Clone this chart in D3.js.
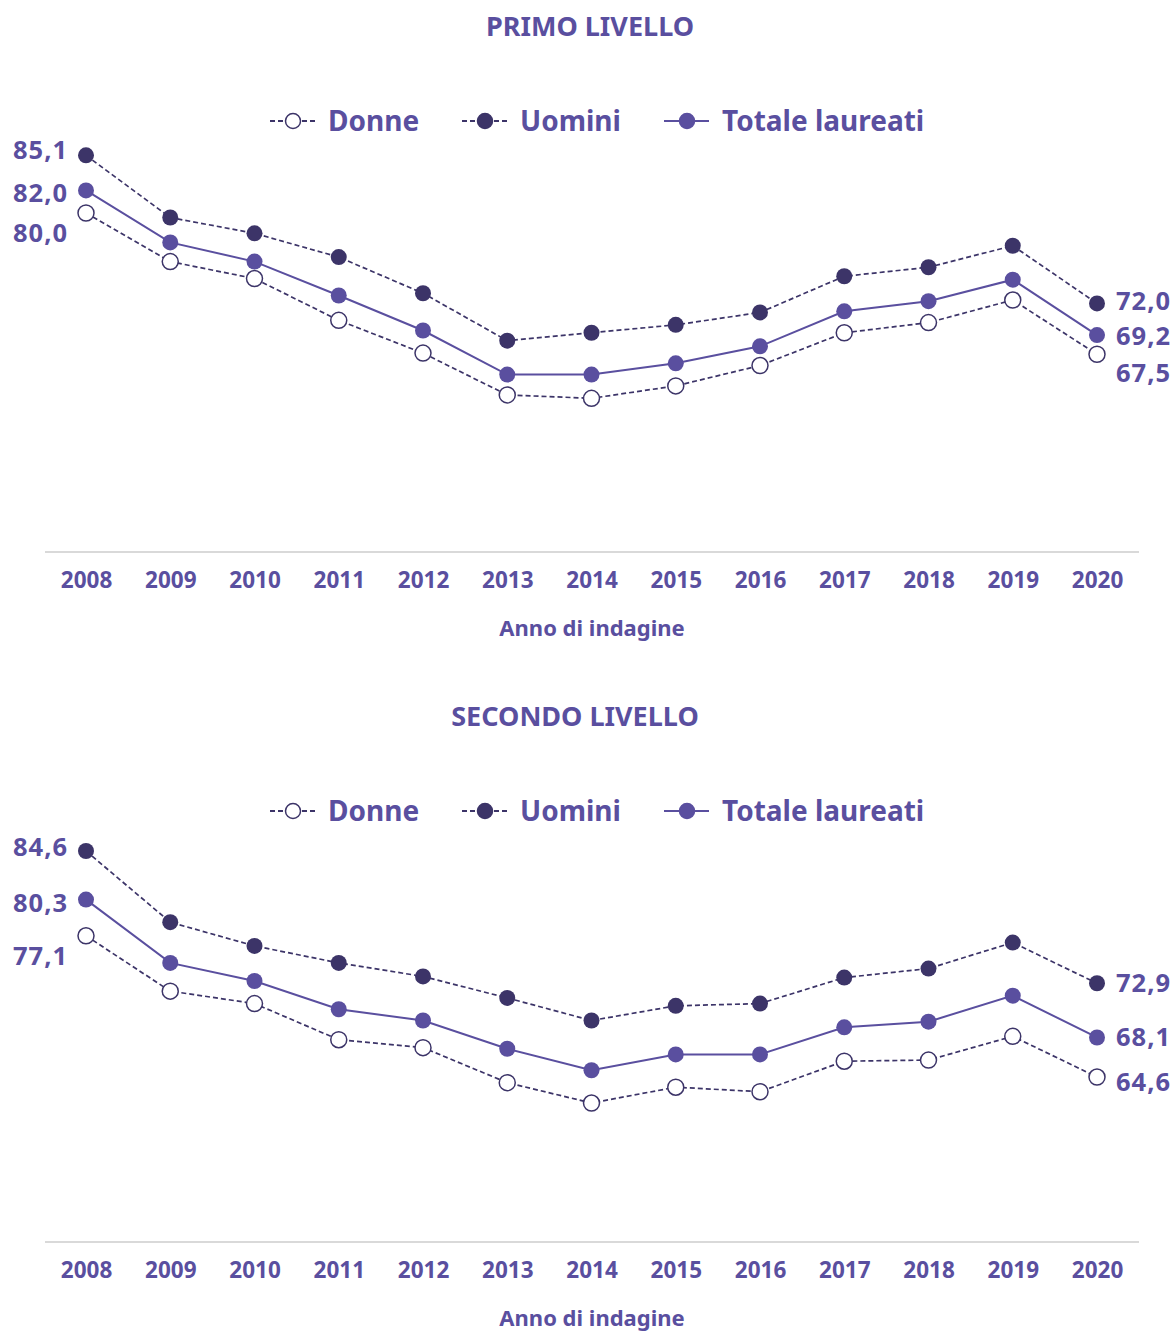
<!DOCTYPE html>
<html>
<head>
<meta charset="utf-8">
<script src="https://cdn.jsdelivr.net/npm/d3@7"></script>
<style>
  body { margin: 0; background: #fff; }
  text { font-family: "Noto Sans", sans-serif; font-weight: bold; }
</style>
</head>
<body>
<div id="chart"></div>
<script>
const years = ['2008', '2009', '2010', '2011', '2012', '2013', '2014', '2015', '2016', '2017', '2018', '2019', '2020'];

const primoDonne = [80.0, 75.7, 74.2, 70.5, 67.6, 63.9, 63.6, 64.7, 66.5, 69.4, 70.3, 72.3, 67.5];
const primoUomini = [85.1, 79.6, 78.2, 76.1, 72.9, 68.7, 69.4, 70.1, 71.2, 74.4, 75.2, 77.1, 72.0];
const primoTotale = [82.0, 77.4, 75.7, 72.7, 69.6, 65.7, 65.7, 66.7, 68.2, 71.3, 72.2, 74.1, 69.2];

const secondoDonne = [77.1, 72.2, 71.1, 67.9, 67.2, 64.1, 62.3, 63.7, 63.3, 66.0, 66.1, 68.2, 64.6];
const secondoUomini = [84.6, 78.3, 76.2, 74.7, 73.5, 71.6, 69.6, 70.9, 71.1, 73.4, 74.2, 76.5, 72.9];
const secondoTotale = [80.3, 74.7, 73.1, 70.6, 69.6, 67.1, 65.2, 66.6, 66.6, 69.0, 69.5, 71.8, 68.1];

const seriesNames = ['Donne', 'Uomini', 'Totale laureati'];
const xTitle = 'Anno di indagine';

const textColor = '#5a4f9f';
const darkColor = '#3c3468';
const styles = {
    'Donne': { stroke: darkColor, fill: '#fff', dash: '5,3' },
    'Uomini': { stroke: darkColor, fill: darkColor, dash: '5,3' },
    'Totale laureati': { stroke: '#5a4f9f', fill: '#5a4f9f', dash: null }
};

const svg = d3.select('#chart')
    .append('svg')
    .attr('width', 1175)
    .attr('height', 1333);

const fmt = v => d3.format('.1f')(v).replace('.', ',');

function drawPanel(top, title, titleX, data, leftOffsets, rightOffsets) {
    const g = svg.append('g').attr('transform', 'translate(0,' + top + ')');

    const x = d3.scalePoint().domain(years).range([86, 1097]);
    const y = d3.scaleLinear().domain([50, 90]).range([552, 100]);

    g.append('text')
        .attr('x', titleX).attr('y', 36)
        .attr('text-anchor', 'middle')
        .attr('fill', textColor)
        .style('font-size', '27px')
        .text(title);

    // legend
    const legendX = [270, 462, 664];
    seriesNames.forEach((name, i) => {
        const s = styles[name];
        const lg = g.append('g').attr('transform', 'translate(' + legendX[i] + ',121)');
        lg.append('line')
            .attr('x1', 0).attr('x2', 45)
            .attr('stroke', s.stroke)
            .attr('stroke-width', 2)
            .attr('stroke-dasharray', s.dash);
        lg.append('circle')
            .attr('cx', 23).attr('r', 7.5)
            .attr('fill', s.fill)
            .attr('stroke', s.stroke)
            .attr('stroke-width', 1.5);
        lg.append('text')
            .attr('x', 58).attr('y', 10)
            .attr('fill', textColor)
            .style('font-size', '28px')
            .text(name);
    });

    // baseline
    g.append('line')
        .attr('x1', 45).attr('x2', 1139)
        .attr('y1', y(50)).attr('y2', y(50))
        .attr('stroke', '#d9d9d9')
        .attr('stroke-width', 2);

    const xAxis = g.append('g')
        .attr('transform', 'translate(0,' + y(50) + ')')
        .call(d3.axisBottom(x).tickSize(0).tickPadding(20));
    xAxis.select('.domain').remove();
    xAxis.selectAll('text')
        .attr('fill', textColor)
        .style('font-size', '22.5px')
        .style('font-family', '"Noto Sans", sans-serif')
        .style('font-weight', 'bold');

    g.append('text')
        .attr('x', 592).attr('y', 636)
        .attr('text-anchor', 'middle')
        .attr('fill', textColor)
        .style('font-size', '22px')
        .text(xTitle);

    const line = d3.line()
        .x((d, i) => x(years[i]))
        .y(d => y(d));

    // draw order: Donne, Uomini, Totale
    seriesNames.forEach((name, k) => {
        const s = styles[name];
        const vals = data[k];
        g.append('path')
            .datum(vals)
            .attr('fill', 'none')
            .attr('stroke', s.stroke)
            .attr('stroke-width', name === 'Totale laureati' ? 2 : 1.7)
            .attr('stroke-dasharray', s.dash)
            .attr('d', line);
        g.selectAll('.pt' + k)
            .data(vals)
            .enter()
            .append('circle')
            .attr('cx', (d, i) => x(years[i]))
            .attr('cy', d => y(d))
            .attr('r', 8)
            .attr('fill', s.fill)
            .attr('stroke', name === 'Donne' ? s.stroke : 'none')
            .attr('stroke-width', 1.5);

        // end labels
        const first = vals[0];
        const last = vals[vals.length - 1];
        g.append('text')
            .attr('x', 68).attr('y', y(first) + leftOffsets[k] + 9)
            .attr('text-anchor', 'end')
            .attr('fill', textColor)
            .style('font-size', '25.5px')
            .style('letter-spacing', '1px')
            .text(fmt(first));
        g.append('text')
            .attr('x', 1116).attr('y', y(last) + rightOffsets[k] + 9)
            .attr('text-anchor', 'start')
            .attr('fill', textColor)
            .style('font-size', '25.5px')
            .style('letter-spacing', '1px')
            .text(fmt(last));
    });
}

drawPanel(0, 'PRIMO LIVELLO', 590,
    [primoDonne, primoUomini, primoTotale],
    [20, -5, 3], [19, -2, 1]);
drawPanel(690, 'SECONDO LIVELLO', 575,
    [secondoDonne, secondoUomini, secondoTotale],
    [20, -4, 3], [5, 0, 0]);
</script>
</body>
</html>
